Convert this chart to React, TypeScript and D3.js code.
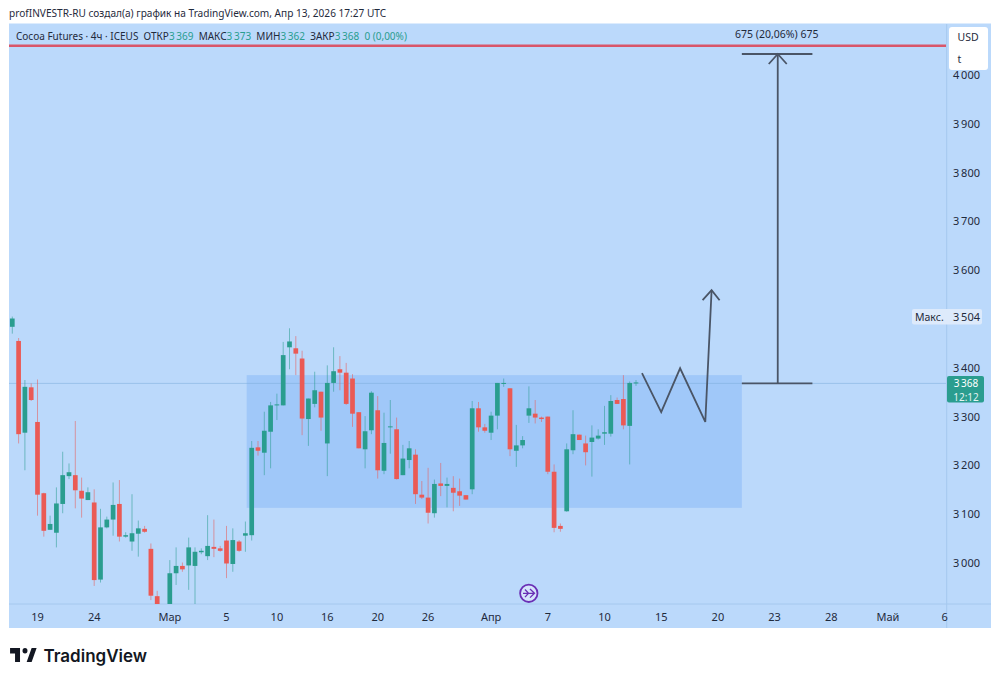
import * as d3 from 'd3';
import * as React from 'react';

const opens = [3484,3455,3267,3360,3289,3143,3068,3062,3121,3178,3180,3148,3129,3124,2966,3073,3089,3121,3054,3044,3060,3070,3029,2932,2905,2904,2979,2994,2995,2994,3022,3014,3033,3030,3046,2998,3044,3056,3057,3237,3226,3269,3323,3323,3442,3440,3419,3295,3326,3351,3245,3369,3397,3390,3378,3309,3233,3272,3313,3189,3278,3274,3180,3211,3222,3140,3134,3102,3163,3158,3154,3147,3139,3151,3317,3278,3267,3302,3368,3358,3230,3241,3302,3306,3298,3300,3187,3076,3106,3231,3263,3245,3248,3255,3265,3265,3334,3336,3281,3368];
const highs = [3505,3461,3375,3368,3376,3144,3097,3155,3228,3204,3291,3175,3155,3151,3111,3095,3165,3170,3063,3141,3087,3076,3040,2943,2912,3006,3032,3001,3052,3032,3030,3098,3089,3035,3076,3071,3047,3085,3250,3250,3310,3330,3347,3453,3481,3465,3435,3337,3392,3351,3405,3442,3424,3410,3387,3309,3301,3352,3342,3308,3334,3298,3242,3250,3233,3168,3195,3171,3205,3175,3178,3173,3139,3332,3330,3285,3310,3369,3378,3358,3283,3260,3362,3334,3300,3300,3202,3081,3245,3313,3263,3261,3282,3274,3322,3344,3339,3385,3372,3375];
const lows = [3470,3245,3190,3332,3097,3054,3068,3032,3102,3172,3112,3093,3129,2953,2960,3071,3056,3044,3052,3025,3013,3062,2924,2897,2860,2897,2955,2982,2945,2907,3018,3006,3012,3023,2969,2982,3023,3023,3046,3220,3180,3194,3293,3323,3397,3385,3262,3240,3319,3271,3178,3351,3354,3324,3279,3235,3194,3264,3173,3182,3224,3171,3180,3194,3121,3131,3081,3093,3137,3114,3106,3117,3130,3141,3269,3267,3252,3274,3361,3219,3197,3235,3287,3286,3289,3182,3063,3064,3105,3223,3252,3200,3177,3253,3242,3259,3326,3274,3202,3363];
const closes = [3501,3264,3361,3334,3140,3066,3080,3122,3180,3186,3149,3132,3145,2965,3073,3089,3119,3054,3057,3061,3071,3064,2933,2907,2870,2979,2994,2987,3032,3023,3025,3035,3029,3025,2999,3047,3025,3061,3236,3230,3271,3323,3325,3426,3454,3429,3296,3337,3354,3298,3369,3393,3390,3326,3306,3235,3270,3349,3190,3246,3280,3172,3214,3235,3141,3134,3103,3162,3158,3162,3144,3138,3130,3317,3278,3271,3302,3369,3369,3233,3241,3252,3317,3298,3295,3187,3072,3070,3233,3264,3252,3227,3257,3261,3268,3332,3326,3282,3369,3370];

const priceTicks = [3000,3100,3200,3300,3400,3600,3700,3800,3900,4000];
const timeTicks: [number, string][] = [[4,'19'],[13,'24'],[25,'Мар'],[34,'5'],[42,'10'],[50,'16'],[58,'20'],[66,'26'],[76,'Апр'],[85,'7'],[94,'10'],[103,'15'],[112,'20'],[121,'23'],[130,'28'],[139,'Май'],[148,'6']];

const lastPrice = 3368;
const maxPrice = 3504;
const rangeBox = { from: 37.2, to: 115.8, top: 3385, bottom: 3113 };
const zigzagIdx = [99.95,103,106,110,111];
const zigzagPrice = [3389,3309,3399,3289,3559];
const measureIdx = [115.8,121.5,127];
const measurePrice = [3368,4043];
const redLinePrice = 4060;

const UP = '#2A9D8F';
const DOWN = '#EA5A55';
const INK = '#1F2A3C';
const DRAW = '#4A5566';
const FONT = '"Noto Sans", sans-serif';

const fmt = (v: number) => d3.format('d')(v).replace(/(\d)(\d{3})$/, '$1\u2009$2');

const x = d3.scaleLinear().domain([0, 99]).range([12.3, 636]);
const y = d3.scaleLinear().domain([3000, 4000]).range([563, 75]);

export default function App() {
  const zigzag = d3.line<number>().x((d) => x(d)).y((_, i) => y(zigzagPrice[i]))(zigzagIdx);
  const tipX = x(zigzagIdx[4]);
  const tipY = y(zigzagPrice[4]);
  const mx = x(measureIdx[1]);
  const my0 = y(measurePrice[0]);
  const my1 = y(measurePrice[1]);

  return (
    <svg width={1000} height={681} style={{ position: 'absolute', left: 0, top: 0, display: 'block', background: '#fff' }} fontFamily={FONT}>
      <defs>
        <clipPath id="plot"><rect x={9} y={24} width={937.5} height={580} /></clipPath>
      </defs>
      <text x={9} y={17} fontSize={10.1} fill={INK}>profINVESTR-RU создал(а) график на TradingView.com, Апр 13, 2026 17:27 UTC</text>

      <rect x={9} y={23.5} width={982} height={604.5} fill="#BBD9FB" />
      <line x1={946.7} x2={946.7} y1={24} y2={628} stroke="#A5C8EE" />
      <line x1={9} x2={991} y1={604} y2={604} stroke="#A5C8EE" />

      <rect x={x(rangeBox.from)} y={y(rangeBox.top)} width={x(rangeBox.to) - x(rangeBox.from)} height={y(rangeBox.bottom) - y(rangeBox.top)} fill="#A0C8F9" />
      <line x1={9} x2={946} y1={y(lastPrice)} y2={y(lastPrice)} stroke="#7FAFDC" strokeOpacity={0.55} />

      <g clipPath="url(#plot)">
        {opens.map((o, i) => {
          const c = closes[i];
          const col = c >= o ? UP : DOWN;
          const top = y(Math.max(o, c));
          const bot = y(Math.min(o, c));
          return (
            <g key={i}>
              <line x1={x(i)} x2={x(i)} y1={y(highs[i])} y2={y(lows[i])} stroke={col} strokeOpacity={0.55} />
              <rect x={x(i) - 2.35} y={top} width={4.7} height={Math.max(bot - top, 1)} fill={col} />
            </g>
          );
        })}
      </g>

      <line x1={9} x2={946} y1={y(redLinePrice)} y2={y(redLinePrice)} stroke="#D9566A" strokeWidth={2.6} />

      <path d={zigzag ?? ''} fill="none" stroke={DRAW} strokeWidth={1.8} />
      <path d={`M${tipX - 9},${tipY + 10}L${tipX},${tipY}L${tipX + 8},${tipY + 10}`} fill="none" stroke={DRAW} strokeWidth={1.8} />
      <g stroke={DRAW} strokeWidth={1.8} fill="none">
        <line x1={x(measureIdx[0])} x2={x(measureIdx[2])} y1={my0} y2={my0} />
        <line x1={x(measureIdx[0])} x2={x(measureIdx[2])} y1={my1} y2={my1} />
        <line x1={mx} x2={mx} y1={my0} y2={my1} />
        <path d={`M${mx - 9},${my1 + 10}L${mx},${my1}L${mx + 9},${my1 + 10}`} />
      </g>
      <text x={mx - 1} y={38} fontSize={10.5} textAnchor="middle" fill={INK}>675 (20,06%) 675</text>

      <text x={16} y={40} fontSize={10} fill={INK} xmlSpace="preserve">
        Cocoa Futures · 4ч · ICEUS  ОТКР<tspan fill={UP}>3{'\u2009'}369</tspan>  МАКС<tspan fill={UP}>3{'\u2009'}373</tspan>  МИН<tspan fill={UP}>3{'\u2009'}362</tspan>  ЗАКР<tspan fill={UP}>3{'\u2009'}368</tspan>  <tspan fill={UP}>0 (0,00%)</tspan>
      </text>

      {priceTicks.map((p) => (
        <text key={p} x={966.5} y={y(p) + 4} fontSize={11} textAnchor="middle" fill={INK}>{fmt(p)}</text>
      ))}
      {timeTicks.map(([i, label]) => (
        <text key={label + i} x={x(i)} y={621} fontSize={11} textAnchor="middle" fill={INK}>{label}</text>
      ))}

      <rect x={949} y={27} width={39} height={43} rx={3} fill="#fff" />
      <text x={957.5} y={41} fontSize={10.5} fill={INK}>USD</text>
      <text x={957.5} y={63} fontSize={10.5} fill={INK}>t</text>

      <rect x={912} y={309} width={70} height={15.5} rx={2} fill="#DDEAFB" />
      <text x={915} y={321} fontSize={10.5} fill={INK}>Макс.</text>
      <text x={966.5} y={y(maxPrice) + 4} fontSize={11} textAnchor="middle" fill={INK}>{fmt(maxPrice)}</text>

      <rect x={947} y={376} width={37} height={26.5} rx={2} fill={UP} />
      <text x={966} y={387} fontSize={10} textAnchor="middle" fill="#fff">{fmt(lastPrice)}</text>
      <text x={966} y={400.8} fontSize={10} textAnchor="middle" fill="#E4F4F2">12:12</text>

      <circle cx={528.8} cy={593.3} r={8.7} fill="#D5E4FB" stroke="#6A2FB5" strokeWidth={1.8} />
      <path d="M523,593.3H534M530,589L534.5,593.3L530,597.6M525,589.5L528.5,593.3L525,597.1" fill="none" stroke="#6A2FB5" strokeWidth={1.3} />

      <g transform="translate(8.4,642.4) scale(0.83,0.93)" fill="#131722">
        <path d="M14 6H2v6h6v9h6V6zm14 15h-6l6-15h6l-6 15z" />
        <circle cx={20} cy={9} r={3} />
      </g>
      <text x={43.5} y={661.5} fontSize={17} fontWeight={600} fontFamily="Inter, sans-serif" fill="#131722">TradingView</text>
    </svg>
  );
}
